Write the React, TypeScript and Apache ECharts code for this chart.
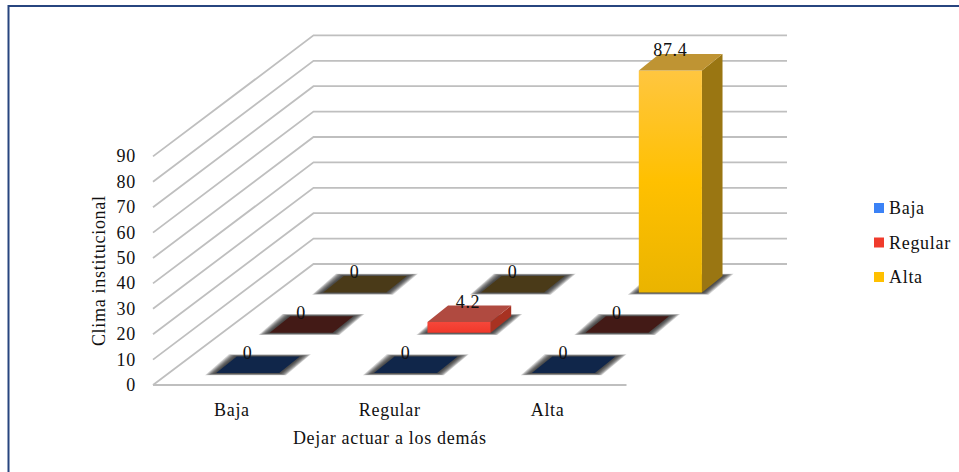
import React, { useEffect, useRef } from "react";
import * as echarts from "echarts";

const categories = ["Baja", "Regular", "Alta"];
const seriesNames = ["Baja", "Regular", "Alta"];
const bajaValues = [0, 0, 0];
const regularValues = [0, 4.2, 0];
const altaValues = [0, 0, 87.4];
const yTicks = [0, 10, 20, 30, 40, 50, 60, 70, 80, 90];
const yAxisTitle = "Clima institucional";
const xAxisTitle = "Dejar actuar a los demás";

const FONT = "Liberation Serif";
const FS = 18;
const DEPTH_X = 160.5;
const DEPTH_Y = 121;
const BAR_W = 0.4;
const BAR_D = 0.41;
const BAR_DX = 0.385;
const SHADOW_STEPS = [11, 9.5, 8, 6.5, 5, 3.5, 2];

const palette = [
  { legend: "#3b82f6", front: ["#3b82f6", "#2f6fe0"], side: "#1f4a96", top: "#3f6fc0", flat: "#10264a" },
  { legend: "#f03b2c", front: ["#f5473a", "#f0382a"], side: "#a83222", top: "#b04a40", flat: "#431a16" },
  { legend: "#ffc000", front: ["#ffc640", "#ffc000", "#eab400"], side: "#9a7612", top: "#bf9433", flat: "#4a3a18" },
];

export default function App() {
  const ref = useRef<HTMLDivElement>(null);
  useEffect(() => {
    document.body.style.margin = "0";
    const chart = echarts.init(ref.current!, undefined, { renderer: "svg" });

    const wallItem = (params: any, api: any) => {
      const cs = params.coordSys;
      const v = api.value(1);
      const y = api.coord([0, v])[1];
      const x0 = cs.x;
      const x1 = cs.x + cs.width;
      const style = { stroke: "#bfbfbf", lineWidth: 1.8, fill: "none" };
      const pts: number[][] = [
        [x0, y],
        [x0 + DEPTH_X, y - DEPTH_Y],
        [x1 + DEPTH_X, y - DEPTH_Y],
      ];
      const children: any[] = [{ type: "polyline", shape: { points: pts }, style }];
      if (v === 0) {
        children.push({ type: "line", shape: { x1: x0, y1: y, x2: x1, y2: y }, style });
      }
      return { type: "group", children };
    };

    const barItem = (s: number) => (params: any, api: any) => {
      const c = palette[s];
      const cat = api.value(0);
      const v = api.value(1);
      const base = api.coord([cat, 0]);
      const topP = api.coord([cat, v]);
      const band = api.size([1, 0])[0];
      const w = band * BAR_W;
      const rowD = 1 / seriesNames.length;
      const d0 = (s + 0.5 - BAR_D / 2) * rowD;
      const d1 = (s + 0.5 + BAR_D / 2) * rowD;
      const backX = DEPTH_X * rowD * BAR_DX;
      const xl = base[0] - w / 2;
      const xr = base[0] + w / 2;
      const F = (x: number, y: number) => [x + DEPTH_X * d0, y - DEPTH_Y * d0];
      const B = (x: number, y: number) => [x + DEPTH_X * d0 + backX, y - DEPTH_Y * d1];
      const yb = base[1];
      const yt = topP[1];
      const kids: any[] = [];
      // soft shadow on the floor, built from stacked translucent parallelograms
      SHADOW_STEPS.forEach((k) => {
        const pad = k * 0.2;
        kids.push({
          type: "polygon",
          shape: {
            points: [
              [F(xl, yb)[0] - k, F(xl, yb)[1] + pad],
              [F(xr, yb)[0] + k * 0.6, F(xr, yb)[1] + pad],
              [B(xr, yb)[0] + k, B(xr, yb)[1] - pad],
              [B(xl, yb)[0] - k * 0.7, B(xl, yb)[1] - pad],
            ],
          },
          style: { fill: "rgba(30,30,30,0.2)" },
        });
      });
      if (v > 0) {
        kids.push({
          type: "polygon",
          shape: { points: [F(xr, yb), B(xr, yb), B(xr, yt), F(xr, yt)] },
          style: { fill: c.side },
        });
        kids.push({
          type: "rect",
          shape: { x: F(xl, yb)[0], y: F(xl, yt)[1], width: w, height: yb - yt },
          style: {
            fill: new echarts.graphic.LinearGradient(
              0, 0, 0, 1,
              c.front.map((color, i) => ({ offset: i / (c.front.length - 1), color }))
            ),
          },
        });
      }
      kids.push({
        type: "polygon",
        shape: { points: [F(xl, yt), F(xr, yt), B(xr, yt), B(xl, yt)] },
        style: { fill: v > 0 ? c.top : c.flat },
      });
      const nudge = s === 1 && cat === 1 ? 9 : 0;
      kids.push({
        type: "text",
        style: {
          x: F(base[0], yt)[0] + nudge,
          y: F(base[0], yt)[1] - 20,
          text: String(v),
          fill: "#111",
          font: `${FS}px "${FONT}"`,
          align: "center",
          verticalAlign: "middle",
        },
      });
      return { type: "group", children: kids };
    };

    const mk = (values: number[], s: number) => ({
      type: "custom" as const,
      name: seriesNames[s],
      z: 10 - s,
      clip: false,
      itemStyle: { color: palette[s].legend },
      renderItem: barItem(s),
      data: values.map((v, i) => [i, v]),
    });

    chart.setOption({
      animation: false,
      backgroundColor: "#fff",
      textStyle: { fontFamily: FONT, color: "#111" },
      grid: { left: 153, top: 156.4, width: 473.5, height: 228.6 },
      legend: {
        data: seriesNames,
        orient: "vertical",
        left: 869,
        top: 194,
        icon: "rect",
        itemWidth: 10,
        itemHeight: 10,
        itemGap: 16.5,
        textStyle: { fontFamily: FONT, fontSize: FS, color: "#111" },
      },
      xAxis: {
        type: "category",
        data: categories,
        name: xAxisTitle,
        nameLocation: "middle",
        nameGap: 44,
        nameTextStyle: { fontFamily: FONT, fontSize: FS, color: "#111" },
        axisLine: { show: false },
        axisTick: { show: false },
        axisLabel: { fontFamily: FONT, fontSize: FS, color: "#111", margin: 16 },
      },
      yAxis: {
        type: "value",
        min: 0,
        max: 90,
        interval: 10,
        name: yAxisTitle,
        nameLocation: "middle",
        nameGap: 45,
        nameTextStyle: { fontFamily: FONT, fontSize: FS, color: "#111" },
        axisLine: { show: false },
        axisTick: { show: false },
        splitLine: { show: false },
        axisLabel: { fontFamily: FONT, fontSize: FS, color: "#111", margin: 17, padding: [5, 0, 0, 0] },
      },
      graphic: [
        {
          type: "rect",
          shape: { x: 8.5, y: 6, width: 960, height: 480 },
          style: { fill: "none", stroke: "#27457f", lineWidth: 2 },
          silent: true,
        },
      ],
      series: [
        {
          type: "custom",
          name: "walls",
          z: 1,
          clip: false,
          silent: true,
          renderItem: wallItem,
          data: yTicks.map((t) => [0, t]),
        },
        mk(altaValues, 2),
        mk(regularValues, 1),
        mk(bajaValues, 0),
      ],
    });
    return () => chart.dispose();
  }, []);
  return (
    <div
      ref={ref}
      style={{ position: "absolute", left: 0, top: 0, width: 959, height: 472, letterSpacing: "0.7px" }}
    />
  );
}
